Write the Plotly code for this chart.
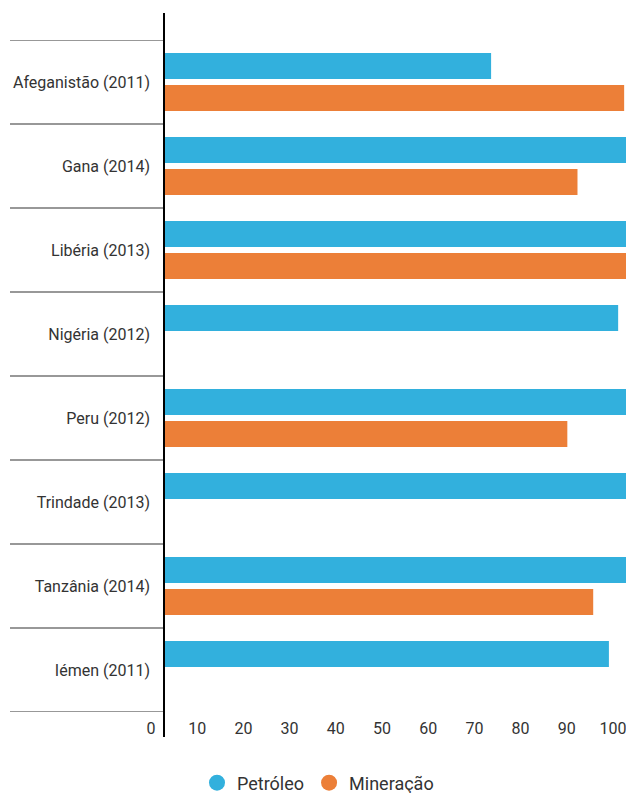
import plotly.graph_objects as go

categories = ["Afeganistão (2011)", "Gana (2014)", "Libéria (2013)", "Nigéria (2012)",
              "Peru (2012)", "Trindade (2013)", "Tanzânia (2014)", "Iémen (2011)"]
petroleo = [70.8, 100, 100, 98.3, 100, 100, 100, 96.3]
mineracao = [99.6, 89.5, 100, None, 87.3, None, 92.9, None]
x_ticks = [0, 10, 20, 30, 40, 50, 60, 70, 80, 90, 100]

BLUE = "#32B0DD"
ORANGE = "#EC7F38"
FONT = "Roboto"
FS = 16

fig = go.Figure()
fig.add_trace(go.Bar(y=categories, x=petroleo, orientation="h", name="Petróleo",
                     marker=dict(color=BLUE, line=dict(width=0)), showlegend=False))
fig.add_trace(go.Bar(y=categories, x=mineracao, orientation="h", name="Mineração",
                     marker=dict(color=ORANGE, line=dict(width=0)), showlegend=False))
# legend entries with circle symbols
fig.add_trace(go.Scatter(x=[None], y=[None], mode="markers", name="Petróleo",
                         marker=dict(color=BLUE, size=19, symbol="circle")))
fig.add_trace(go.Scatter(x=[None], y=[None], mode="markers", name="Mineração",
                         marker=dict(color=ORANGE, size=19, symbol="circle")))

W, H = 626, 793
ml, mr, mt, mb = 164, 0, 40, 81
pw, ph = W - ml - mr, H - mt - mb

shapes = []
n = len(categories)
for i in range(n + 1):
    yv = i - 0.5
    shapes.append(dict(type="line", xref="paper", yref="y",
                       x0=-(ml - 10) / pw, x1=0, y0=yv, y1=yv,
                       line=dict(color="#333333", width=1.2)))
shapes.append(dict(type="line", xref="paper", yref="paper",
                   x0=0, x1=0, y0=-(737 - (H - mb)) / ph, y1=1 + (mt - 13) / ph,
                   line=dict(color="#000000", width=2)))

fig.update_layout(
    width=W, height=H,
    margin=dict(l=ml, r=mr, t=mt, b=mb, pad=0),
    paper_bgcolor="white", plot_bgcolor="white",
    barmode="group", bargap=0.238, bargroupgap=0.19,
    font=dict(family=FONT, size=FS, color="#333333"),
    shapes=shapes,
    legend=dict(orientation="h", x=0.508, xanchor="center", xref="container",
                y=(H - 783) / H, yref="container", yanchor="middle",
                font=dict(family=FONT, size=18, color="#333333"),
                itemsizing="trace"),
    xaxis=dict(range=[0, 100], tickvals=x_ticks, ticktext=[str(t) for t in x_ticks],
               showgrid=False, zeroline=False, showline=False, ticks="",
               ticklabelshift=-13, ticklabelstandoff=5, ticklabeloverflow="allow",
               tickfont=dict(family=FONT, size=FS, color="#333333"), fixedrange=True),
    yaxis=dict(categoryorder="array", categoryarray=categories,
               range=[n - 0.5, -0.5], showgrid=False, zeroline=False, showline=False,
               ticks="", ticklabelstandoff=13,
               tickfont=dict(family=FONT, size=FS, color="#333333"), fixedrange=True),
)

fig.write_html("out.html", config={"displayModeBar": False},
               post_script="document.body.style.margin='0';document.body.style.overflow='hidden';")
